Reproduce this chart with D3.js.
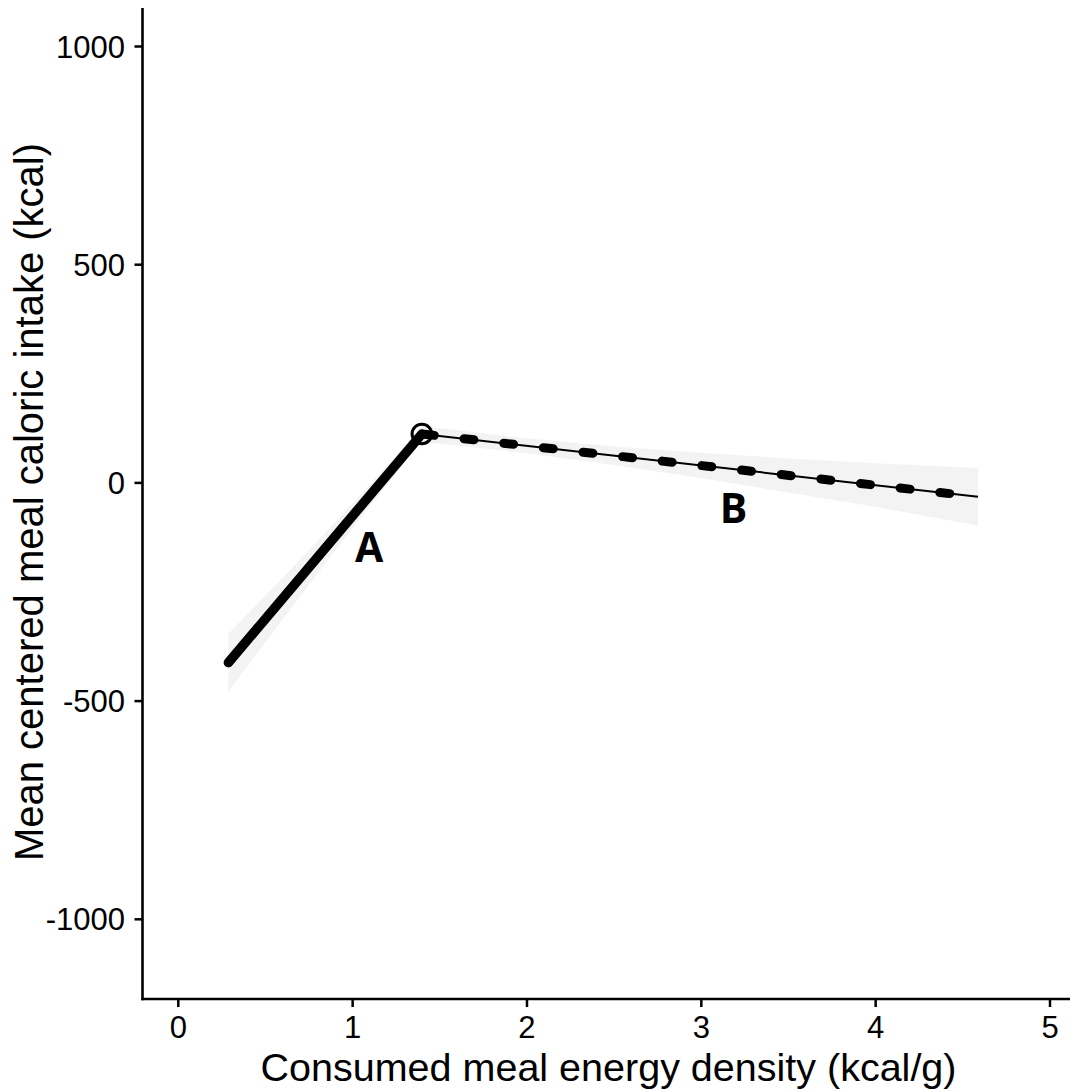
<!DOCTYPE html>
<html lang="en">
<head>
    <meta charset="UTF-8">
    <title>Energy density vs caloric intake</title>
    <script src="https://cdn.jsdelivr.net/npm/d3@7"></script>
    <style>
        body { margin: 0; background: #fff; }
        text { font-family: "Liberation Sans", Arial, sans-serif; }
    </style>
</head>
<body>
<script>

    // values
    const xTicks = [0, 1, 2, 3, 4, 5];
    const yTicks = [-1000, -500, 0, 500, 1000];

    const lineAx = [0.29, 1.40];
    const lineAy = [-413, 111];
    const lineBx = [1.40, 4.59];
    const lineBy = [111, -33];

    const ribbonAx = [0.29, 0.6, 0.9, 1.2, 1.40];
    const ribbonAlo = [-479, -315, -157, -5, 93];
    const ribbonAhi = [-347, -219, -93, 39, 129];

    const ribbonBx = [1.40, 2.0, 2.5, 3.0, 3.5, 4.0, 4.59];
    const ribbonBlo = [93, 67, 40, 10, -23, -56, -99];
    const ribbonBhi = [129, 101, 82, 68, 55, 44, 33];

    const knot = [1.40, 111];
    const labels = ["A", "B"];
    const labelX = [1.097, 3.187];
    const labelY = [-182, -93];

    const width = 1074, height = 1092;
    const panel = {left: 142.5, right: 1070, top: 8, bottom: 999};

    const svg = d3.select("body").append("svg").attr("width", width).attr("height", height);

    const x = d3.scaleLinear().domain([0, 5]).range([177.8, 1049.5]);
    const y = d3.scaleLinear().domain([-1000, 1000]).range([918.8, 46]);

    const zip = (xs, ys) => xs.map((v, i) => [v, ys[i]]);

    // confidence ribbons
    const area = d3.area()
        .x(d => x(d[0]))
        .y0(d => y(d[1]))
        .y1(d => y(d[2]));

    svg.append("path")
        .datum(ribbonAx.map((v, i) => [v, ribbonAlo[i], ribbonAhi[i]]))
        .attr("fill", "#f3f3f3")
        .attr("d", area);
    svg.append("path")
        .datum(ribbonBx.map((v, i) => [v, ribbonBlo[i], ribbonBhi[i]]))
        .attr("fill", "#f3f3f3")
        .attr("d", area);

    const line = d3.line().x(d => x(d[0])).y(d => y(d[1]));

    // segment A, thick solid
    svg.append("path")
        .datum(zip(lineAx, lineAy))
        .attr("fill", "none")
        .attr("stroke", "#000")
        .attr("stroke-width", 9.5)
        .attr("stroke-linecap", "round")
        .attr("d", line);

    // segment B, thin solid plus thick dashes
    svg.append("path")
        .datum(zip(lineBx, lineBy))
        .attr("fill", "none")
        .attr("stroke", "#000")
        .attr("stroke-width", 2)
        .attr("d", line);
    svg.append("path")
        .datum(zip(lineBx, lineBy))
        .attr("fill", "none")
        .attr("stroke", "#000")
        .attr("stroke-width", 9)
        .attr("stroke-linecap", "round")
        .attr("stroke-dasharray", "10 29.9")
        .attr("stroke-dashoffset", -2.5)
        .attr("d", line);

    // knot
    svg.append("circle")
        .attr("cx", x(knot[0]))
        .attr("cy", y(knot[1]))
        .attr("r", 9.8)
        .attr("fill", "none")
        .attr("stroke", "#000")
        .attr("stroke-width", 3);

    // A / B labels
    svg.append("g")
        .selectAll("text")
        .data(labels)
        .join("text")
        .attr("x", (d, i) => x(labelX[i]))
        .attr("y", (d, i) => y(labelY[i]))
        .attr("text-anchor", "middle")
        .style("font-family", "'Open Sans', sans-serif")
        .style("font-weight", "bold")
        .style("font-size", "41px")
        .text(d => d);

    // axes
    const yAxis = svg.append("g")
        .attr("transform", `translate(${panel.left},0)`)
        .call(d3.axisLeft(y).tickValues(yTicks).tickFormat(d => String(d)).tickSize(8).tickPadding(9.5));
    const xAxis = svg.append("g")
        .attr("transform", `translate(0,${panel.bottom})`)
        .call(d3.axisBottom(x).tickValues(xTicks).tickFormat(d => String(d)).tickSize(8).tickPadding(9));

    [yAxis, xAxis].forEach(g => {
        g.select(".domain").remove();
        g.selectAll(".tick line").attr("stroke", "#000").attr("stroke-width", 2.5);
        g.selectAll(".tick text")
            .attr("fill", "#000")
            .style("font-size", "31px")
            .style("font-family", "'Liberation Sans', Arial, sans-serif");
    });
    yAxis.selectAll(".tick text").attr("dy", "0.355em");

    svg.append("line")
        .attr("x1", panel.left).attr("x2", panel.left)
        .attr("y1", panel.top).attr("y2", panel.bottom + 1.2)
        .attr("stroke", "#000").attr("stroke-width", 2.6);
    svg.append("line")
        .attr("x1", panel.left - 1.2).attr("x2", panel.right)
        .attr("y1", panel.bottom).attr("y2", panel.bottom)
        .attr("stroke", "#000").attr("stroke-width", 2.6);

    // axis titles
    svg.append("text")
        .attr("x", 608.5)
        .attr("y", 1081)
        .attr("text-anchor", "middle")
        .style("font-size", "39.5px")
        .text("Consumed meal energy density (kcal/g)");

    svg.append("text")
        .attr("transform", "translate(43,502) rotate(-90)")
        .attr("text-anchor", "middle")
        .style("font-size", "40px")
        .text("Mean centered meal caloric intake (kcal)");

</script>
</body>
</html>
